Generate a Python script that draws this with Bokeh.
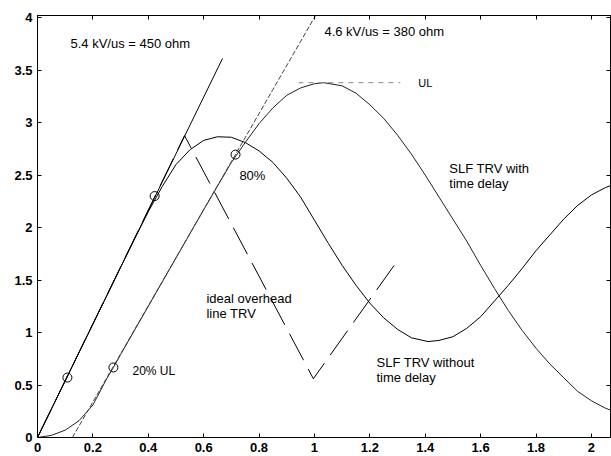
from bokeh.plotting import figure
from bokeh.models import LinearAxis, FixedTicker, CustomJSTickFormatter, Range1d
from bokeh.core.properties import value
from bokeh.embed import file_html
from bokeh.resources import INLINE

# SLF TRV without time delay (solid)
slf_x = [0.00, 0.05, 0.10, 0.15, 0.20, 0.25, 0.30, 0.35, 0.40, 0.45, 0.50, 0.55, 0.60, 0.65,
         0.70, 0.75, 0.80, 0.85, 0.90, 0.95, 1.00, 1.05, 1.10, 1.15, 1.20, 1.25, 1.30, 1.35,
         1.41, 1.45, 1.50, 1.55, 1.60, 1.65, 1.70, 1.75, 1.80, 1.85, 1.90, 1.95, 2.00, 2.05, 2.07]
slf_y = [0.00, 0.27, 0.54, 0.81, 1.08, 1.35, 1.62, 1.89, 2.15, 2.39, 2.60, 2.74, 2.83, 2.865,
         2.86, 2.81, 2.73, 2.62, 2.47, 2.29, 2.07, 1.85, 1.64, 1.45, 1.28, 1.14, 1.03, 0.95,
         0.914, 0.925, 0.96, 1.04, 1.15, 1.30, 1.45, 1.61, 1.78, 1.93, 2.08, 2.21, 2.31, 2.38, 2.40]

# SLF TRV with time delay
slfd_x = [0.00, 0.05, 0.10, 0.15, 0.20, 0.25, 0.274, 0.30, 0.40, 0.50, 0.60, 0.70, 0.75, 0.80,
          0.85, 0.90, 0.95, 1.00, 1.033, 1.10, 1.15, 1.20, 1.25, 1.30, 1.35, 1.40, 1.45, 1.50,
          1.55, 1.60, 1.65, 1.70, 1.75, 1.80, 1.85, 1.90, 1.95, 2.00, 2.05, 2.07]
slfd_y = [0.00, 0.02, 0.07, 0.16, 0.31, 0.56, 0.667, 0.79, 1.25, 1.71, 2.17, 2.62, 2.81, 2.99,
          3.14, 3.26, 3.33, 3.37, 3.38, 3.35, 3.28, 3.17, 3.04, 2.88, 2.70, 2.50, 2.29, 2.08,
          1.87, 1.64, 1.42, 1.21, 1.02, 0.85, 0.70, 0.57, 0.44, 0.35, 0.28, 0.26]

# ideal overhead line TRV (long dashes)
ideal_x = [0.0, 0.531, 0.996, 1.296]
ideal_y = [0.0, 2.876, 0.56, 1.67]

# 5.4 kV/us tangent (solid) and 4.6 kV/us tangent
rate54_x = [0.0, 0.668]
rate54_y = [0.0, 3.61]
rate46_x = [0.126, 1.004]
rate46_y = [0.0, 4.02]

# UL level
ul_x = [0.942, 1.31]
ul_y = [3.38, 3.38]

# marker circles
circ_x = [0.108, 0.423, 0.274, 0.715]
circ_y = [0.571, 2.30, 0.667, 2.695]

# annotations
lab13_x = [0.119, 1.036, 0.729, 0.61, 0.61, 1.224, 1.224, 1.487, 1.487]
lab13_y = [3.752, 3.867, 2.495, 1.324, 1.181, 0.714, 0.571, 2.562, 2.419]
lab13_t = ["5.4 kV/us = 450 ohm", "4.6 kV/us = 380 ohm", "80%", "ideal overhead", "line TRV",
           "SLF TRV without", "time delay", "SLF TRV with", "time delay"]
lab12_x = [0.343]
lab12_y = [0.629]
lab12_t = ["20% UL"]
lab11_x = [1.375]
lab11_y = [3.381]
lab11_t = ["UL"]

x_ticks = [0, 0.2, 0.4, 0.6, 0.8, 1.0, 1.2, 1.4, 1.6, 1.8, 2.0]
y_ticks = [0, 0.5, 1.0, 1.5, 2.0, 2.5, 3.0, 3.5, 4.0]

FONT = "Liberation Sans"

p = figure(width=611, height=456, x_range=Range1d(0, 2.069), y_range=Range1d(0, 4.02),
           output_backend="svg", toolbar_location=None,
           min_border_left=37, min_border_right=1, min_border_top=15, min_border_bottom=19)
p.xgrid.visible = False
p.ygrid.visible = False
p.outline_line_color = "black"
p.outline_line_alpha = 1.0
p.background_fill_color = "white"
p.border_fill_color = "white"

fmt = CustomJSTickFormatter(code="return (Math.round(tick*10)/10).toString();")
blank = CustomJSTickFormatter(code="return '';")

def style(ax, ticks, show):
    ax.ticker = FixedTicker(ticks=ticks)
    ax.major_tick_in = 4
    ax.major_tick_out = 0
    ax.minor_tick_line_color = None
    ax.axis_line_color = "black"
    ax.major_tick_line_color = "black"
    if show:
        ax.formatter = fmt
        ax.major_label_text_font = FONT
        ax.major_label_text_font_size = "13px"
        ax.major_label_text_font_style = "bold"
        ax.major_label_text_color = "black"
        ax.major_label_standoff = 5
    else:
        ax.formatter = blank
        ax.major_label_standoff = 0

style(p.xaxis[0], x_ticks, True)
style(p.yaxis[0], y_ticks, True)
top = LinearAxis()
style(top, x_ticks, False)
right = LinearAxis()
style(right, y_ticks, False)
p.add_layout(top, "above")
p.add_layout(right, "right")

p.line(slf_x, slf_y, line_color="black", line_width=1)
p.line(slfd_x, slfd_y, line_color="#222222", line_width=1)
p.line(ideal_x, ideal_y, line_color="black", line_width=1, line_dash="30 10")
p.line(rate54_x, rate54_y, line_color="black", line_width=1)
p.line(rate46_x, rate46_y, line_color="#444444", line_width=1, line_dash="5 2")
p.line(ul_x, ul_y, line_color="#888888", line_width=1, line_dash="5 5")
p.scatter(circ_x, circ_y, marker="circle", size=9, fill_color=None, line_color="black", line_width=1)

p.text(lab13_x, lab13_y, text=lab13_t, text_font=value(FONT), text_font_size="13px",
       text_baseline="middle", text_align="left", text_color="black")
p.text(lab12_x, lab12_y, text=lab12_t, text_font=value(FONT), text_font_size="12px",
       text_baseline="middle", text_align="left", text_color="black")
p.text(lab11_x, lab11_y, text=lab11_t, text_font=value(FONT), text_font_size="11px",
       text_baseline="middle", text_align="left", text_color="black")

open("out.html", "w").write(file_html(p, INLINE))
